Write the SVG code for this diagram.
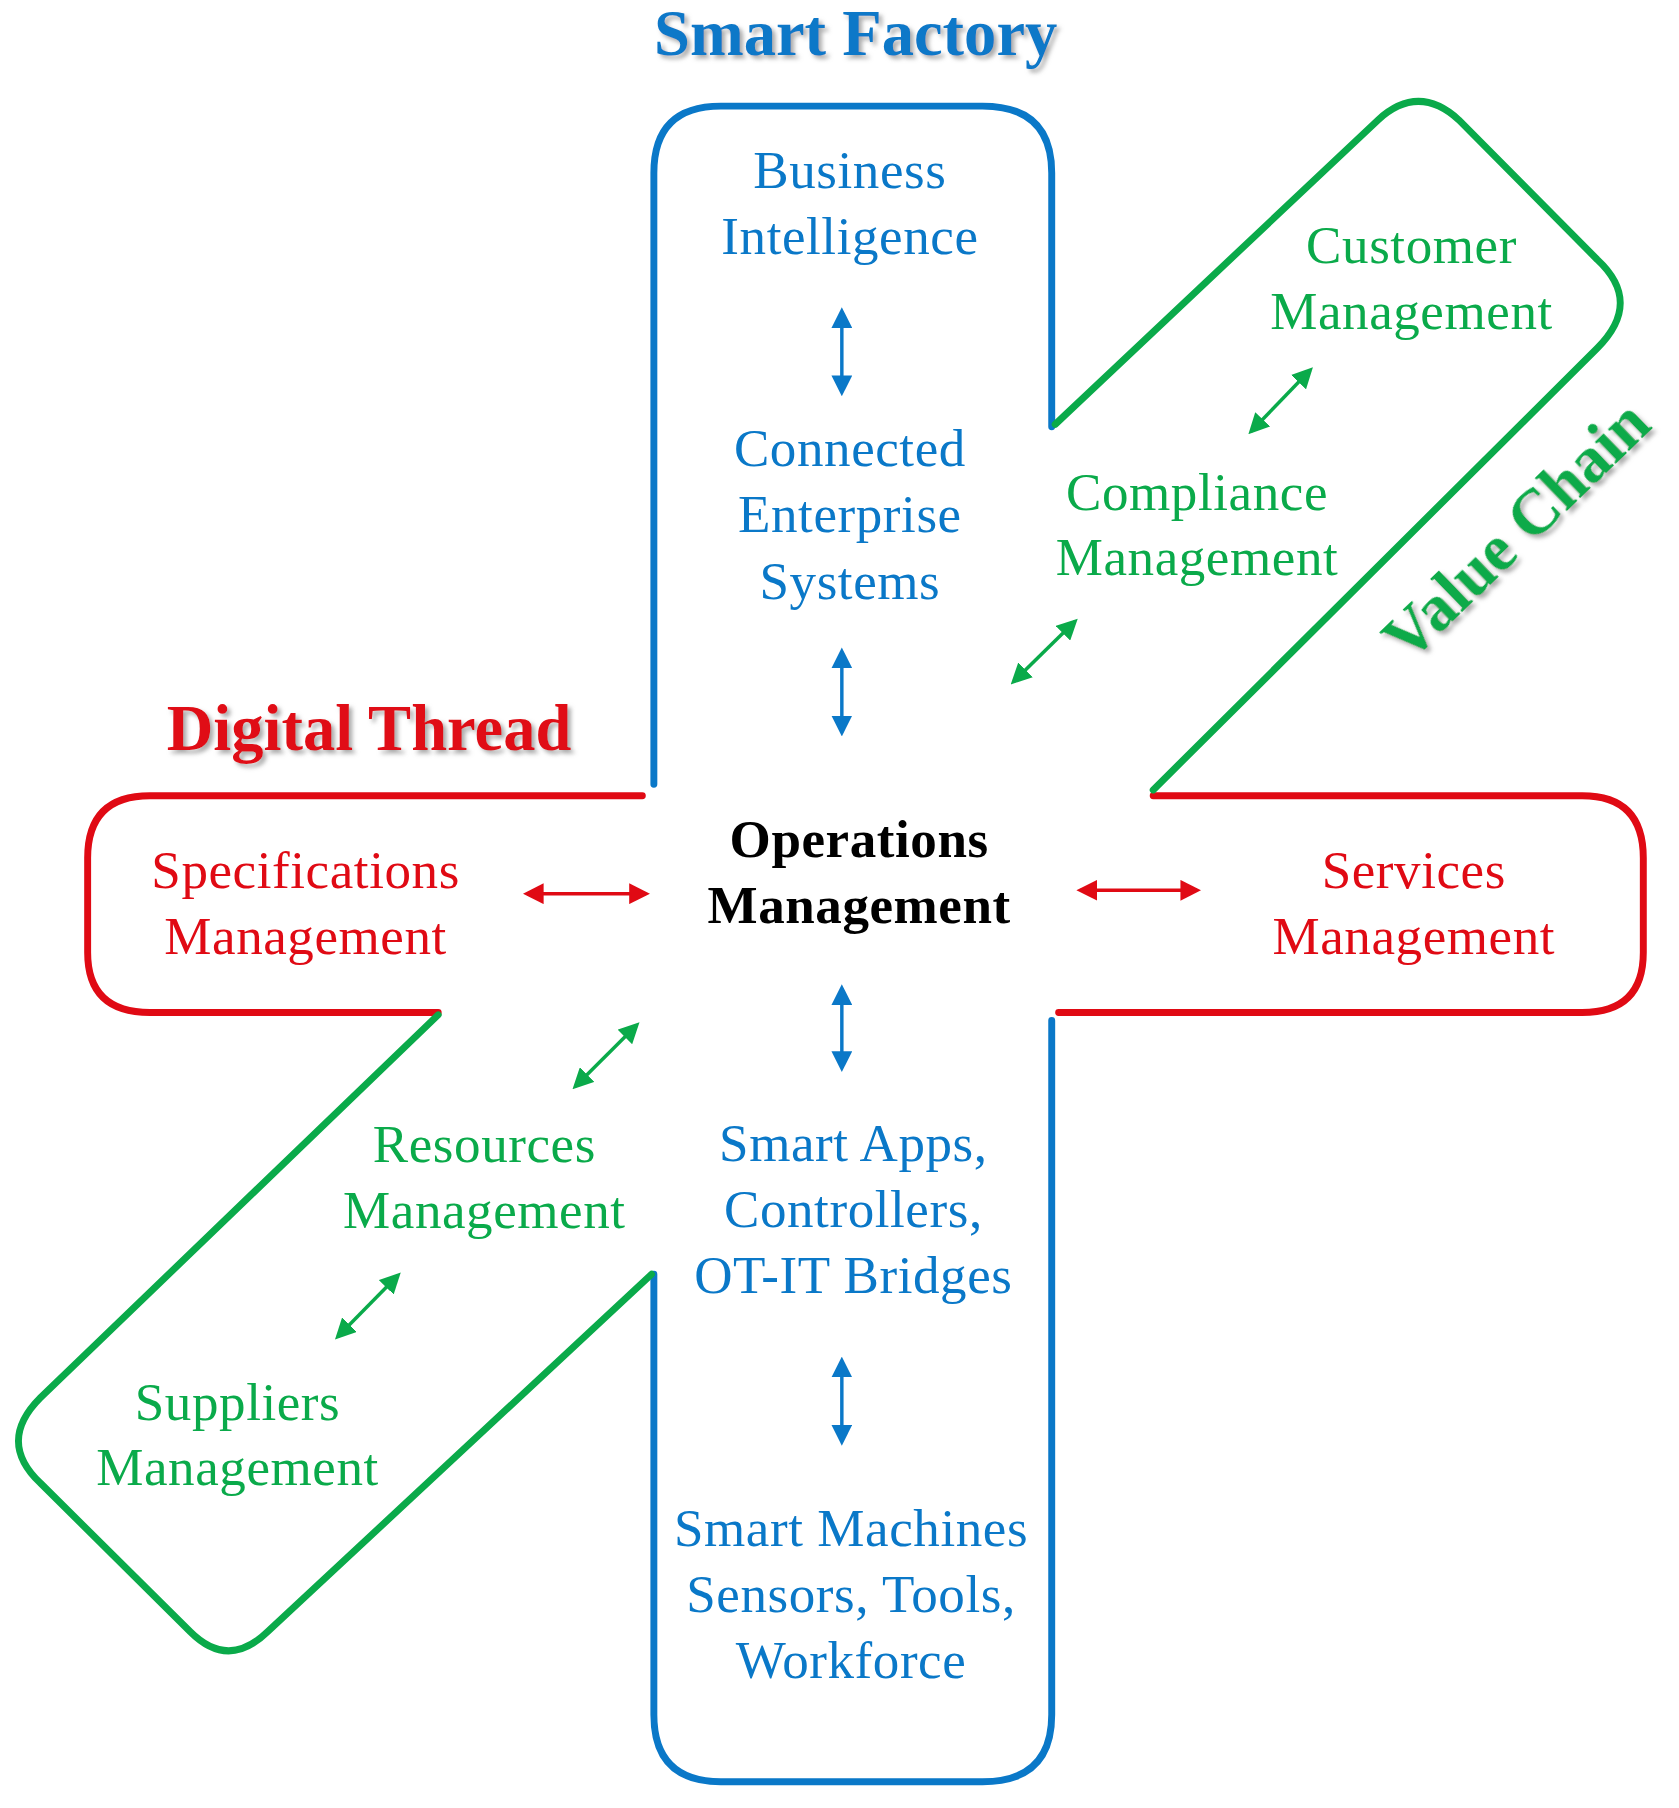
<svg xmlns="http://www.w3.org/2000/svg" width="1679" height="1808" viewBox="0 0 1679 1808">
<defs>
<style>
.t{font-family:"Liberation Serif","DejaVu Serif",serif;font-size:46px;text-anchor:middle;letter-spacing:0.5px}
.b{fill:#0a78c8}.g{fill:#0aaa4a}.r{fill:#e00a14}
.ttl{font-family:"Liberation Serif",serif;font-weight:bold;font-size:56px;text-anchor:middle}
.ln{fill:none;stroke-width:6;stroke-linecap:round;stroke-linejoin:round}
.ar{stroke-width:3;fill:none}
</style>
<marker id="mb" viewBox="0 0 10 10" refX="8" refY="5" markerWidth="6" markerHeight="6" orient="auto-start-reverse"><path d="M0,0L10,5L0,10z" fill="#0a78c8"/></marker>
<marker id="mg" viewBox="0 0 10 10" refX="8" refY="5" markerWidth="6" markerHeight="6" orient="auto-start-reverse"><path d="M0,0L10,5L0,10z" fill="#0aaa4a"/></marker>
<marker id="mr" viewBox="0 0 10 10" refX="8" refY="5" markerWidth="6" markerHeight="6" orient="auto-start-reverse"><path d="M0,0L10,5L0,10z" fill="#e00a14"/></marker>
<filter id="sh"><feDropShadow dx="3" dy="3" stdDeviation="2" flood-color="#888" flood-opacity="0.7"/></filter>
</defs>
<g transform="scale(1.1532)">
<g id="shapes">
<path class="ln" stroke="#0a78c8" d="M567,680V150Q567,92,625,92H852Q912,92,912,150V370"/>
<path class="ln" stroke="#0a78c8" d="M567,1105V1487Q567,1545,625,1545H852Q912,1545,912,1487V885"/>
<path class="ln" stroke="#e00a14" d="M557,690H130Q76,690,76,744V826Q76,878,130,878H380"/>
<path class="ln" stroke="#e00a14" d="M1000,690H1372Q1425,690,1425,744V826Q1425,878,1372,878H918"/>
<path class="ln" stroke="#0aaa4a" d="M915,368L1195,104Q1230,72,1265,104L1385,225Q1425,262,1385,302L1000,685"/>
<path class="ln" stroke="#0aaa4a" d="M380,880L35,1212Q-3,1250,35,1286L165,1415Q198,1448,232,1415L565,1105"/>
</g>
<g id="connectors">
<line class="ar" stroke="#0a78c8" x1="730" y1="270" x2="730" y2="340" marker-start="url(#mb)" marker-end="url(#mb)"/>
<line class="ar" stroke="#0a78c8" x1="730" y1="565" x2="730" y2="635" marker-start="url(#mb)" marker-end="url(#mb)"/>
<line class="ar" stroke="#0a78c8" x1="730" y1="857" x2="730" y2="926" marker-start="url(#mb)" marker-end="url(#mb)"/>
<line class="ar" stroke="#0a78c8" x1="730" y1="1180" x2="730" y2="1250" marker-start="url(#mb)" marker-end="url(#mb)"/>
<line class="ar" stroke="#e00a14" x1="457" y1="775" x2="560" y2="775" marker-start="url(#mr)" marker-end="url(#mr)"/>
<line class="ar" stroke="#e00a14" x1="937" y1="772" x2="1038" y2="772" marker-start="url(#mr)" marker-end="url(#mr)"/>
<line class="ar" stroke="#0aaa4a" x1="1085" y1="374" x2="1136" y2="321" marker-start="url(#mg)" marker-end="url(#mg)"/>
<line class="ar" stroke="#0aaa4a" x1="879" y1="591" x2="932" y2="539" marker-start="url(#mg)" marker-end="url(#mg)"/>
<line class="ar" stroke="#0aaa4a" x1="499" y1="942" x2="552" y2="889" marker-start="url(#mg)" marker-end="url(#mg)"/>
<line class="ar" stroke="#0aaa4a" x1="293" y1="1159" x2="345" y2="1106" marker-start="url(#mg)" marker-end="url(#mg)"/>
</g>
<g id="titles" filter="url(#sh)">
<text class="ttl b" x="742" y="48">Smart Factory</text>
<text class="ttl r" x="320" y="650">Digital  Thread</text>
<text class="ttl g" x="1315" y="478" transform="rotate(-44 1315 460)">Value Chain</text>
</g>
<g id="n-bi"><text class="t b" x="737" y="163">Business</text><text class="t b" x="737" y="220">Intelligence</text></g>
<g id="n-ces"><text class="t b" x="737" y="404">Connected</text><text class="t b" x="737" y="461">Enterprise</text><text class="t b" x="737" y="519">Systems</text></g>
<g id="n-om"><text class="t" x="745" y="743" font-weight="bold" fill="#000">Operations</text><text class="t" x="745" y="800" font-weight="bold" fill="#000">Management</text></g>
<g id="n-sa"><text class="t b" x="740" y="1007">Smart Apps,</text><text class="t b" x="740" y="1064">Controllers,</text><text class="t b" x="740" y="1121">OT-IT Bridges</text></g>
<g id="n-sm"><text class="t b" x="738" y="1341">Smart Machines</text><text class="t b" x="738" y="1398">Sensors,  Tools,</text><text class="t b" x="738" y="1455">Workforce</text></g>
<g id="n-spec"><text class="t r" x="265" y="770">Specifications</text><text class="t r" x="265" y="827">Management</text></g>
<g id="n-serv"><text class="t r" x="1226" y="770">Services</text><text class="t r" x="1226" y="827">Management</text></g>
<g id="n-cust"><text class="t g" x="1224" y="228">Customer</text><text class="t g" x="1224" y="285">Management</text></g>
<g id="n-comp"><text class="t g" x="1038" y="442">Compliance</text><text class="t g" x="1038" y="499">Management</text></g>
<g id="n-res"><text class="t g" x="420" y="1008">Resources</text><text class="t g" x="420" y="1065">Management</text></g>
<g id="n-sup"><text class="t g" x="206" y="1231">Suppliers</text><text class="t g" x="206" y="1288">Management</text></g>
</g>
</svg>
